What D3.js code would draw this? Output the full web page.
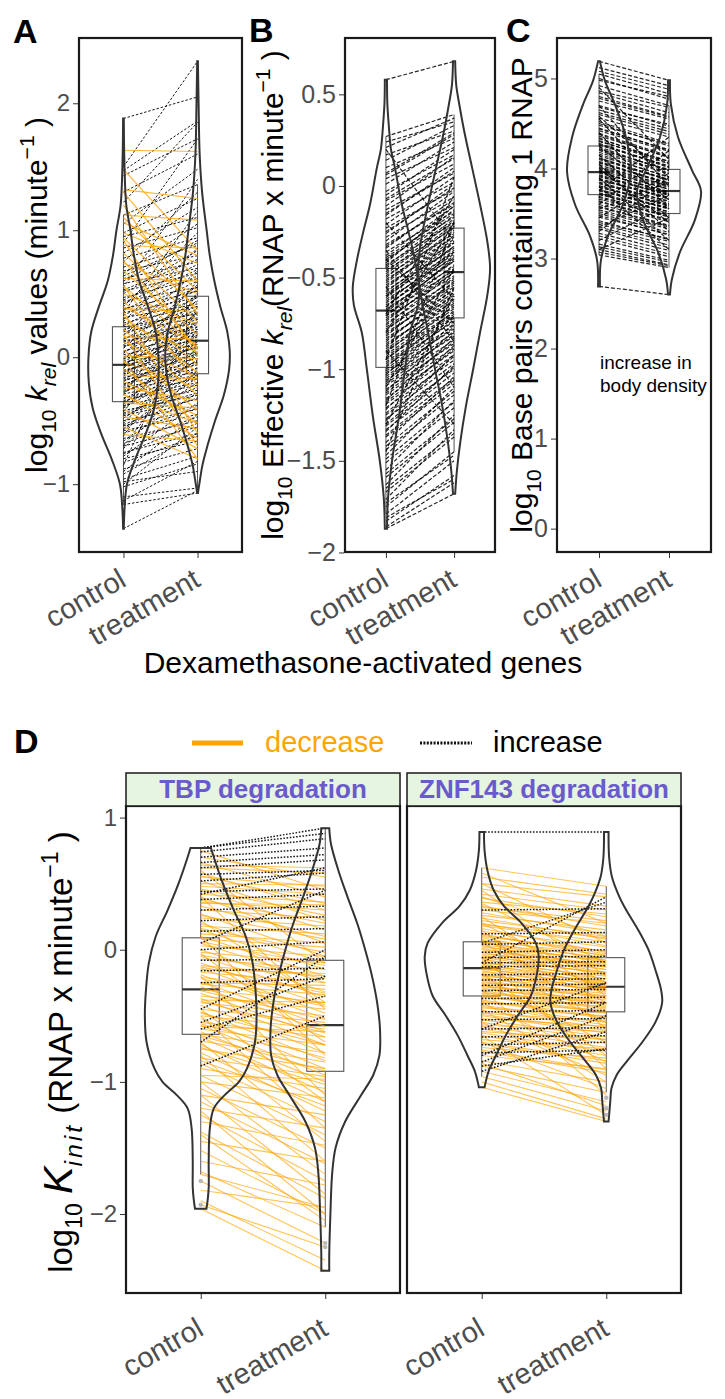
<!DOCTYPE html>
<html>
<head>
<meta charset="utf-8">
<script src="https://cdn.jsdelivr.net/npm/d3@7"></script>
<style>
  body { margin: 0; background: #fff; }
  svg { font-family: "Liberation Sans", Arial, Helvetica, sans-serif; }
</style>
</head>
<body>
<svg id="chart" width="725" height="1399"></svg>
<script>
// ---- data ----
const groups = ["control", "treatment"];

// panel A: log10 k_rel, [control, treatment]
const aIncrease = [[1.88,2.05],[1.50,2.33],[1.47,1.86],[1.43,1.72],[1.30,1.60],[1.22,1.85],[1.12,1.36],[1.05,1.48],[0.98,1.25],[0.95,1.10],[0.90,1.72],[0.86,1.02],[0.82,1.18],[0.78,0.94],[0.75,1.30],[0.71,0.88],[0.68,0.80],[0.66,1.05],[0.62,0.75],[0.60,0.92],[0.58,0.70],[0.55,1.40],[0.52,0.66],[0.50,0.84],[0.47,0.62],[0.45,0.73],[0.44,0.55],[0.40,0.98],[0.38,0.52],[0.37,0.64],[0.35,0.47],[0.33,0.60],[0.31,0.42],[0.28,0.86],[0.27,0.40],[0.25,0.53],[0.22,0.35],[0.21,0.47],[0.20,0.31],[0.17,0.68],[0.15,0.27],[0.14,0.44],[0.12,0.24],[0.10,0.38],[0.09,0.20],[0.07,0.57],[0.05,0.17],[0.04,0.33],[0.02,0.14],[0.00,0.26],[-0.01,0.10],[-0.02,0.45],[-0.04,0.07],[-0.05,0.21],[-0.06,0.04],[-0.08,0.16],[-0.09,0.60],[-0.10,0.02],[-0.12,0.12],[-0.13,-0.01],[-0.14,0.28],[-0.16,-0.04],[-0.17,0.09],[-0.18,-0.06],[-0.20,0.36],[-0.21,-0.09],[-0.22,0.05],[-0.24,-0.11],[-0.25,0.18],[-0.26,-0.14],[-0.28,0.01],[-0.29,-0.17],[-0.30,0.50],[-0.32,-0.20],[-0.33,-0.03],[-0.34,-0.22],[-0.37,0.14],[-0.38,-0.26],[-0.40,-0.08],[-0.42,-0.30],[-0.43,0.30],[-0.46,-0.33],[-0.48,-0.12],[-0.50,-0.38],[-0.52,0.08],[-0.54,-0.41],[-0.57,-0.20],[-0.58,-0.45],[-0.62,0.22],[-0.64,-0.50],[-0.66,-0.28],[-0.70,-0.55],[-0.72,-0.10],[-0.75,-0.60],[-0.78,-0.36],[-0.80,-0.66],[-0.85,0.40],[-0.88,-0.72],[-0.90,-0.45],[-0.96,-0.78],[-1.00,-0.55],[-1.02,-0.84],[-1.10,-1.03],[-1.13,-0.82],[-1.16,-1.07],[-1.35,-1.05],[0.30,0.55],[0.18,0.40],[0.08,0.30],[-0.03,0.19],[-0.11,0.08],[-0.19,0.03],[-0.27,-0.05],[-0.35,-0.15],[-0.44,-0.24],[-0.53,-0.32],[-0.60,-0.40],[-0.68,-0.47],[-0.76,-0.52],[-0.83,-0.62],[0.42,0.69],[0.53,0.77],[0.64,0.90],[0.24,0.34],[0.13,0.22],[-0.15,0.24],[-0.23,0.11],[-0.39,-0.02],[-0.45,-0.28],[-0.56,-0.16],[-0.70,0.05],[-0.92,-0.60],[-0.98,-0.90],[0.03,0.50],[-0.07,0.35],[0.35,1.15]];
const aDecrease = [[1.63,1.62],[1.48,0.84],[1.32,1.25],[1.30,0.60],[1.12,1.08],[1.10,0.52],[1.06,0.80],[0.98,0.74],[0.94,0.38],[0.88,0.86],[0.82,0.28],[0.74,0.50],[0.68,0.18],[0.62,0.60],[0.56,0.08],[0.50,0.26],[0.44,-0.06],[0.38,0.36],[0.32,-0.12],[0.27,0.04],[0.22,-0.30],[0.16,0.14],[0.12,-0.16],[0.06,-0.42],[0.01,-0.01],[-0.04,-0.24],[-0.09,-0.52],[-0.14,-0.17],[-0.19,-0.46],[-0.24,-0.34],[-0.29,-0.64],[-0.36,-0.40],[-0.41,-0.72],[-0.47,-0.56],[-0.55,-0.80],[-0.61,-0.66],[0.36,-0.60],[0.56,-0.22],[0.76,0.06],[1.20,0.34],[0.18,-0.70],[-0.02,-0.80],[0.40,0.10],[0.92,0.02],[-0.30,-0.52]];

// panel B: log10 effective k_rel
const bPairs = [[0.58,0.68],[0.27,0.39],[0.24,0.35],[0.21,0.37],[0.17,0.30],[0.14,0.33],[0.10,0.26],[0.07,0.29],[0.04,0.21],[0.01,0.24],[-0.03,0.17],[-0.05,0.20],[-0.08,0.12],[-0.11,0.16],[-0.13,0.07],[-0.16,0.10],[-0.18,0.02],[-0.21,0.05],[-0.23,-0.02],[-0.26,0.01],[-0.28,-0.06],[-0.30,-0.03],[-0.32,-0.10],[-0.34,-0.07],[-0.36,-0.14],[-0.38,-0.11],[-0.40,-0.17],[-0.41,-0.13],[-0.43,-0.20],[-0.44,-0.16],[-0.46,-0.23],[-0.47,-0.19],[-0.49,-0.26],[-0.50,-0.22],[-0.51,-0.28],[-0.53,-0.25],[-0.54,-0.31],[-0.56,-0.27],[-0.57,-0.34],[-0.58,-0.30],[-0.60,-0.36],[-0.61,-0.33],[-0.62,-0.39],[-0.64,-0.35],[-0.65,-0.41],[-0.66,-0.38],[-0.67,-0.44],[-0.69,-0.40],[-0.70,-0.46],[-0.71,-0.43],[-0.72,-0.49],[-0.74,-0.45],[-0.75,-0.51],[-0.76,-0.47],[-0.78,-0.54],[-0.79,-0.50],[-0.80,-0.57],[-0.82,-0.52],[-0.83,-0.60],[-0.85,-0.56],[-0.86,-0.63],[-0.88,-0.59],[-0.90,-0.66],[-0.91,-0.62],[-0.93,-0.69],[-0.95,-0.65],[-0.97,-0.72],[-0.99,-0.68],[-1.01,-0.76],[-1.03,-0.71],[-1.05,-0.80],[-1.07,-0.75],[-1.09,-0.84],[-1.12,-0.79],[-1.14,-0.88],[-1.17,-0.83],[-1.19,-0.92],[-1.22,-0.87],[-1.25,-0.97],[-1.28,-0.92],[-1.31,-1.02],[-1.34,-0.98],[-1.37,-1.08],[-1.40,-1.04],[-1.44,-1.14],[-1.47,-1.10],[-1.51,-1.21],[-1.55,-1.17],[-1.59,-1.29],[-1.63,-1.25],[-1.67,-1.37],[-1.71,-1.33],[-1.75,-1.45],[-1.79,-1.50],[-1.83,-1.58],[-1.87,-1.68],[-1.86,-1.62],[-0.20,-0.62],[-0.35,-0.85],[-1.20,-0.20],[-0.95,0.05],[-0.55,-1.10],[-1.45,-0.55],[0.20,-0.30],[-0.70,-0.05],[-1.30,-0.60],[-0.45,-0.18],[-0.52,-0.24],[-0.59,-0.33],[-0.63,-0.37],[-0.68,-0.41],[-0.73,-0.47],[-0.77,-0.53],[-0.81,-0.55],[-0.84,-0.58],[-0.87,-0.61],[-0.89,-0.64],[-0.92,-0.67],[-0.94,-0.70],[-0.96,-0.71],[-0.98,-0.74],[-1.00,-0.73],[-1.02,-0.78],[-1.04,-0.77],[-1.06,-0.82],[-1.08,-0.81],[-1.11,-0.86],[-1.13,-0.85],[-1.16,-0.90],[-1.18,-0.89],[-1.21,-0.95],[-1.24,-0.93],[-1.27,-1.00],[-1.30,-0.99],[-1.33,-1.05],[-1.36,-1.06],[-0.15,0.08],[-0.25,-0.01],[-0.33,-0.09],[-0.39,-0.15],[-0.42,-0.11],[-0.48,-0.21],[-0.55,-0.29],[-0.60,-0.31],[-0.66,-0.36],[-0.71,-0.39],[0.06,0.28],[-0.07,0.15],[-1.42,-1.12],[-1.49,-1.18],[-1.57,-1.27],[-1.65,-1.35],[-1.73,-1.47],[-1.81,-1.60],[-0.80,-0.20],[-1.10,-0.45],[-0.40,-0.75],[-0.90,-1.30]];

// panel C: log10 base pairs containing 1 RNAP
const cPairs = [[5.19,4.98],[5.12,4.92],[5.05,4.83],[4.98,4.80],[4.92,4.70],[4.86,4.68],[4.80,4.58],[4.75,4.55],[4.70,4.47],[4.65,4.44],[4.60,4.38],[4.56,4.35],[4.52,4.28],[4.48,4.27],[4.45,4.20],[4.42,4.19],[4.39,4.14],[4.36,4.13],[4.33,4.08],[4.30,4.08],[4.28,4.02],[4.26,4.03],[4.24,3.97],[4.22,3.98],[4.20,3.95],[4.18,3.94],[4.16,3.90],[4.14,3.91],[4.12,3.87],[4.10,3.87],[4.08,3.83],[4.06,3.84],[4.04,3.80],[4.02,3.81],[4.00,3.77],[3.98,3.77],[3.96,3.74],[3.95,3.74],[3.93,3.71],[3.91,3.71],[3.89,3.67],[3.87,3.68],[3.85,3.63],[3.83,3.64],[3.81,3.59],[3.79,3.60],[3.77,3.56],[3.75,3.56],[3.73,3.52],[3.71,3.52],[3.69,3.48],[3.66,3.47],[3.63,3.42],[3.60,3.41],[3.57,3.36],[3.54,3.35],[3.50,3.29],[3.46,3.27],[3.42,3.21],[3.38,3.19],[3.33,3.12],[3.28,3.09],[3.22,3.02],[3.16,2.98],[3.10,2.93],[3.04,2.90],[2.69,2.60],[4.40,3.55],[3.30,3.90],[4.70,3.80],[3.60,4.20],[4.05,3.30],[3.20,3.60],[4.90,4.10],[3.80,3.10],[4.25,3.65],[3.45,3.95],[3.90,3.20],[4.55,3.70],[3.10,3.45],[3.75,4.35],[4.15,3.45],[4.34,4.06],[4.27,4.01],[4.21,3.99],[4.11,3.88],[4.07,3.82],[4.01,3.79],[3.97,3.72],[3.92,3.70],[3.88,3.66],[3.84,3.61],[3.80,3.58],[3.76,3.55],[3.72,3.50],[3.68,3.46],[3.64,3.43],[3.58,3.37],[3.52,3.33],[3.48,3.26],[3.40,3.22],[3.35,3.15],[3.25,3.05],[3.13,2.96],[3.07,2.92],[4.62,4.41],[4.50,4.25],[4.44,4.21],[4.38,4.12],[4.31,4.05],[4.84,4.62],[4.78,4.57],[4.68,4.49],[5.00,4.77],[5.08,4.88],[4.58,3.90],[3.55,3.85],[4.00,3.40],[3.35,3.70]];

// panel D: log10 K_init, TBP and ZNF143 degradation
const tbpDecrease = [[0.70,0.55],[0.66,0.40],[0.62,0.58],[0.58,0.30],[0.55,0.48],[0.52,0.22],[0.48,0.42],[0.45,0.15],[0.42,0.36],[0.40,0.05],[0.36,0.30],[0.33,0.10],[0.30,0.24],[0.27,-0.05],[0.24,0.18],[0.20,-0.10],[0.18,0.12],[0.15,-0.15],[0.12,0.05],[0.10,-0.20],[0.08,0.02],[0.05,-0.25],[0.03,-0.05],[0.00,-0.32],[-0.02,-0.10],[-0.05,-0.36],[-0.07,-0.15],[-0.10,-0.42],[-0.12,-0.20],[-0.14,-0.48],[-0.17,-0.25],[-0.19,-0.52],[-0.21,-0.30],[-0.24,-0.58],[-0.26,-0.34],[-0.28,-0.62],[-0.30,-0.40],[-0.33,-0.66],[-0.35,-0.45],[-0.37,-0.72],[-0.40,-0.50],[-0.42,-0.78],[-0.45,-0.55],[-0.47,-0.84],[-0.50,-0.60],[-0.52,-0.90],[-0.55,-0.66],[-0.57,-0.95],[-0.60,-0.72],[-0.62,-1.00],[-0.64,-0.78],[-0.66,-1.08],[-0.69,-0.85],[-0.72,-1.15],[-0.75,-0.90],[-0.78,-1.22],[-0.82,-0.96],[-0.86,-1.30],[-0.90,-1.05],[-0.95,-1.40],[-1.00,-1.12],[-1.05,-1.50],[-1.10,-1.25],[-1.15,-1.62],[-1.20,-1.35],[-1.25,-1.75],[-1.30,-1.48],[-1.38,-1.88],[-1.45,-1.60],[-1.52,-2.00],[-1.60,-1.78],[-1.68,-2.10],[-1.75,-2.22],[-1.82,-1.95],[-1.93,-2.25],[-1.96,-2.43],[-1.90,-2.35],[-1.70,-1.95],[-1.40,-2.05],[-1.10,-1.85],[-0.80,-1.60],[-0.50,-1.35],[-0.20,-1.10],[0.10,-0.80],[0.40,-0.45],[0.60,-0.10],[0.75,0.45],[0.64,0.62],[0.50,0.49],[0.35,0.34],[-0.15,-0.18],[-0.25,-0.27],[-0.38,-0.40],[-0.58,-0.62],[-0.95,-0.98],[-0.03,-0.70],[-0.45,-1.15],[-0.70,-1.45],[0.22,-0.40],[-1.00,-1.70],[-1.22,-2.00],[0.56,0.35],[0.46,0.26],[0.38,0.20],[0.26,0.08],[0.16,-0.02],[0.06,-0.12],[-0.04,-0.22],[-0.13,-0.33],[-0.22,-0.43],[-0.31,-0.53],[-0.39,-0.63],[-0.48,-0.72],[-0.56,-0.82],[-0.65,-0.92],[-0.74,-1.02],[-0.84,-1.18]];
const tbpIncrease = [[0.77,0.92],[0.77,0.88],[0.74,0.84],[0.70,0.77],[0.66,0.72],[0.62,0.68],[0.57,0.60],[0.52,0.58],[0.44,0.46],[0.38,0.42],[0.30,0.33],[0.22,0.25],[0.14,0.16],[0.00,0.06],[-0.08,-0.07],[-0.16,-0.14],[-0.25,-0.22],[-0.45,0.00],[-0.70,-0.05],[-0.88,-0.50],[-0.60,-0.35],[0.42,0.62],[0.05,0.45],[-0.55,-0.20]];
const znfDecrease = [[0.62,0.48],[0.55,0.42],[0.50,0.40],[0.46,0.33],[0.42,0.30],[0.39,0.25],[0.36,0.27],[0.33,0.18],[0.30,0.20],[0.28,0.12],[0.26,0.15],[0.24,0.08],[0.22,0.10],[0.20,0.03],[0.18,0.06],[0.16,-0.02],[0.14,0.02],[0.12,-0.05],[0.10,-0.01],[0.09,-0.08],[0.07,-0.04],[0.06,-0.10],[0.05,-0.06],[0.03,-0.13],[0.02,-0.08],[0.01,-0.15],[0.00,-0.11],[-0.02,-0.17],[-0.03,-0.13],[-0.04,-0.19],[-0.05,-0.15],[-0.07,-0.22],[-0.08,-0.17],[-0.09,-0.24],[-0.10,-0.20],[-0.11,-0.26],[-0.12,-0.22],[-0.14,-0.28],[-0.15,-0.24],[-0.16,-0.30],[-0.17,-0.26],[-0.18,-0.32],[-0.20,-0.28],[-0.21,-0.35],[-0.22,-0.30],[-0.24,-0.37],[-0.25,-0.33],[-0.26,-0.40],[-0.28,-0.35],[-0.29,-0.42],[-0.30,-0.38],[-0.32,-0.45],[-0.33,-0.40],[-0.35,-0.48],[-0.36,-0.43],[-0.38,-0.51],[-0.40,-0.46],[-0.42,-0.55],[-0.44,-0.50],[-0.46,-0.59],[-0.48,-0.54],[-0.50,-0.63],[-0.52,-0.58],[-0.55,-0.68],[-0.57,-0.62],[-0.60,-0.74],[-0.62,-0.68],[-0.65,-0.80],[-0.68,-0.75],[-0.71,-0.86],[-0.74,-0.82],[-0.77,-0.93],[-0.80,-0.90],[-0.84,-1.00],[-0.88,-1.08],[-0.92,-1.15],[-0.96,-1.22],[-1.00,-1.28],[-1.04,-1.30],[-0.86,-1.18],[-0.70,-1.05],[-0.55,-0.95],[-0.40,-0.85],[-0.25,-0.70],[-0.10,-0.55],[0.05,-0.40],[0.20,-0.25],[0.35,-0.10],[0.50,0.05],[0.58,0.20],[0.45,-0.20],[0.15,-0.60],[-0.05,-0.90],[-0.30,-1.10],[-0.65,-1.25],[0.25,-0.35],[-0.18,-0.80],[0.40,0.10],[-0.45,-1.00],[0.08,-0.30],[0.32,0.22],[0.19,0.09],[0.11,-0.03],[0.04,-0.09],[-0.01,-0.12],[-0.06,-0.18],[-0.13,-0.25],[-0.19,-0.31],[-0.23,-0.36],[-0.27,-0.41],[-0.31,-0.44],[-0.34,-0.47],[-0.39,-0.52],[-0.43,-0.57],[-0.49,-0.61],[-0.53,-0.66],[-0.58,-0.71],[-0.63,-0.77],[-0.70,-0.84],[-0.76,-0.91]];
const znfIncrease = [[0.89,0.89],[0.30,0.31],[0.12,0.13],[0.04,0.06],[-0.02,0.00],[-0.06,-0.05],[-0.10,-0.09],[-0.13,-0.12],[-0.19,-0.18],[-0.23,-0.22],[-0.27,-0.26],[-0.31,-0.30],[-0.37,-0.36],[-0.41,-0.40],[-0.47,-0.46],[-0.53,-0.52],[-0.60,-0.59],[-0.66,-0.65],[-0.72,-0.70],[-0.78,-0.76],[-0.88,-0.75],[-0.92,-0.62],[-0.10,0.40],[-0.60,-0.25],[-0.85,-0.50],[0.05,0.36],[-0.80,-0.40]];

// outlying points [group index, value]
const tbpOutliers = [[0,-1.75],[0,-1.93],[1,-2.22],[1,-2.25]];
const znfOutliers = [[1,-1.12],[1,-1.20],[1,-1.25]];

// violin outlines: [value, relative half-width]
const aViolin = [
  [[1.88,0.01],[1.5,0.03],[1.2,0.08],[1.0,0.2],[0.8,0.3],[0.6,0.45],[0.4,0.7],[0.2,0.92],[0.0,1.0],[-0.2,0.99],[-0.4,0.88],[-0.6,0.64],[-0.8,0.34],[-1.0,0.1],[-1.2,0.03],[-1.35,0.01]],
  [[2.33,0.01],[2.0,0.03],[1.6,0.06],[1.3,0.13],[1.0,0.26],[0.8,0.35],[0.6,0.48],[0.4,0.65],[0.2,0.85],[0.05,0.92],[-0.1,0.9],[-0.3,0.75],[-0.5,0.5],[-0.7,0.28],[-0.85,0.14],[-1.0,0.05],[-1.07,0.01]]
];
const bViolin = [
  [[0.58,0.03],[0.45,0.04],[0.33,0.08],[0.2,0.14],[0.1,0.25],[-0.1,0.44],[-0.26,0.64],[-0.4,0.8],[-0.55,0.92],[-0.65,0.89],[-0.8,0.67],[-1.0,0.53],[-1.26,0.36],[-1.5,0.17],[-1.7,0.06],[-1.87,0.03]],
  [[0.68,0.03],[0.55,0.06],[0.45,0.14],[0.3,0.28],[0.1,0.5],[-0.1,0.72],[-0.3,0.92],[-0.45,1.0],[-0.6,0.92],[-0.8,0.72],[-1.0,0.53],[-1.2,0.33],[-1.4,0.17],[-1.55,0.08],[-1.68,0.03]]
];
const cViolin = [
  [[5.19,0.03],[4.97,0.19],[4.71,0.5],[4.35,0.84],[3.97,1.0],[3.6,0.75],[3.25,0.28],[2.98,0.06],[2.69,0.03]],
  [[4.98,0.03],[4.71,0.06],[4.35,0.28],[3.98,0.72],[3.75,1.0],[3.43,0.81],[3.07,0.34],[2.77,0.09],[2.6,0.03]]
];
const tbpViolin = [
  [[0.77,0.18],[0.7,0.23],[0.5,0.39],[0.3,0.58],[0.1,0.79],[-0.1,0.91],[-0.3,0.96],[-0.5,0.98],[-0.7,0.95],[-0.9,0.81],[-1.0,0.67],[-1.1,0.42],[-1.2,0.23],[-1.35,0.16],[-1.6,0.14],[-1.8,0.14],[-1.9,0.12],[-1.96,0.1]],
  [[0.92,0.07],[0.8,0.1],[0.6,0.23],[0.4,0.39],[0.2,0.56],[0.0,0.7],[-0.2,0.82],[-0.4,0.91],[-0.6,0.96],[-0.8,0.95],[-0.95,0.84],[-1.1,0.63],[-1.3,0.35],[-1.5,0.18],[-1.7,0.12],[-2.0,0.09],[-2.3,0.07],[-2.43,0.07]]
];
const znfViolin = [
  [[0.89,0.04],[0.75,0.05],[0.6,0.1],[0.45,0.21],[0.33,0.39],[0.2,0.7],[0.05,0.95],[-0.05,1.0],[-0.2,0.96],[-0.35,0.86],[-0.5,0.63],[-0.65,0.42],[-0.8,0.25],[-0.92,0.12],[-1.0,0.07],[-1.04,0.05]],
  [[0.89,0.04],[0.7,0.05],[0.55,0.1],[0.4,0.23],[0.3,0.35],[0.15,0.56],[0.0,0.74],[-0.15,0.86],[-0.3,0.96],[-0.4,0.98],[-0.55,0.86],[-0.7,0.63],[-0.85,0.35],[-0.95,0.18],[-1.05,0.09],[-1.15,0.07],[-1.25,0.05],[-1.3,0.04]]
];

// boxes: [q1, median, q3] per group
const aBox = [[-0.35,-0.06,0.24],[-0.13,0.13,0.48]];
const bBox = [[-0.99,-0.68,-0.45],[-0.72,-0.47,-0.23]];
const cBox = [[3.71,3.96,4.25],[3.50,3.75,3.99]];
const tbpBox = [[-0.64,-0.30,0.09],[-0.92,-0.57,-0.08]];
const znfBox = [[-0.35,-0.14,0.06],[-0.47,-0.28,-0.06]];

const aTicks = [-1, 0, 1, 2];
const bTicks = [-2, -1.5, -1, -0.5, 0, 0.5];
const cTicks = [0, 1, 2, 3, 4, 5];
const dTicks = [-2, -1, 0, 1];
const legendLabels = ["decrease", "increase"];
const stripLabels = ["TBP degradation", "ZNF143 degradation"];

// ---- drawing ----
const svg = d3.select("#chart");
const ORANGE = "#FFA500";
const GREY = "#4D4D4D";

const fmt = v => (v < 0 ? "\u2212" : "") + d3.format("~g")(Math.abs(v));

function yScaleFor(values, top, bottom) {
  const [lo, hi] = d3.extent(values);
  const pad = (hi - lo) * 0.05;
  return d3.scaleLinear().domain([lo - pad, hi + pad]).range([bottom, top]);
}

function richText(text, parts, size) {
  let shift = 0;
  parts.forEach(p => {
    const target = p.sub ? size * 0.3 : p.sup ? -size * 0.42 : 0;
    text.append("tspan")
      .attr("font-size", size * (p.scale || 1))
      .attr("font-style", p.italic ? "italic" : null)
      .attr("letter-spacing", p.spacing || null)
      .attr("dy", target - shift)
      .text(p.t);
    shift = target;
  });
}

function drawPanel(o) {
  const [x0, y0, x1, y1] = o.frame;
  const g = svg.append("g");
  const x = d3.scalePoint().domain(groups).range([x0, x1]).padding(0.6);
  const y = o.y;
  const w = d3.scaleLinear().domain([0, 1]).range([0, o.maxHalf]);

  // boxes with whiskers
  o.boxes.forEach((b, i) => {
    const cx = x(groups[i]);
    const vals = o.lineSets.flatMap(s => s.pairs.map(p => p[i]));
    const iqr = b[2] - b[0];
    const lo = d3.min(vals.filter(v => v >= b[0] - 1.5 * iqr));
    const hi = d3.max(vals.filter(v => v <= b[2] + 1.5 * iqr));
    g.append("line").attr("x1", cx).attr("x2", cx).attr("y1", y(b[2])).attr("y2", y(hi))
      .attr("stroke", "#555").attr("stroke-width", 1);
    g.append("line").attr("x1", cx).attr("x2", cx).attr("y1", y(b[0])).attr("y2", y(lo))
      .attr("stroke", "#555").attr("stroke-width", 1);
    g.append("rect")
      .attr("x", cx - o.boxWidth / 2).attr("width", o.boxWidth)
      .attr("y", y(b[2])).attr("height", y(b[0]) - y(b[2]))
      .attr("fill", "none").attr("stroke", "#555").attr("stroke-width", 1.1);
    g.append("line")
      .attr("x1", cx - o.boxWidth / 2).attr("x2", cx + o.boxWidth / 2)
      .attr("y1", y(b[1])).attr("y2", y(b[1]))
      .attr("stroke", "#333").attr("stroke-width", 2.2);
  });

  // paired lines
  o.lineSets.forEach(s => {
    g.append("g").selectAll("line").data(s.pairs).join("line")
      .attr("x1", x(groups[0])).attr("x2", x(groups[1]))
      .attr("y1", d => y(d[0])).attr("y2", d => y(d[1]))
      .attr("stroke", s.color).attr("stroke-width", s.width)
      .attr("stroke-dasharray", s.dash || null)
      .attr("stroke-opacity", s.opacity);
  });

  // violins
  o.violins.forEach((prof, i) => {
    const cx = x(groups[i]);
    const area = d3.area()
      .curve(d3.curveCatmullRom)
      .y(d => y(d[0]))
      .x0(d => cx - w(d[1]))
      .x1(d => cx + w(d[1]));
    g.append("path").attr("d", area(prof))
      .attr("fill", "none").attr("stroke", "#333").attr("stroke-width", 2);
  });

  // outlying points
  if (o.outliers) {
    g.selectAll("circle").data(o.outliers).join("circle")
      .attr("cx", d => x(groups[d[0]])).attr("cy", d => y(d[1])).attr("r", 2.2)
      .attr("fill", "#aaa").attr("fill-opacity", 0.8);
  }

  // frame
  g.append("rect").attr("x", x0).attr("y", y0).attr("width", x1 - x0).attr("height", y1 - y0)
    .attr("fill", "none").attr("stroke", "#1a1a1a").attr("stroke-width", 2.2);

  // y axis
  if (o.ticks) {
    const ax = g.append("g").attr("transform", `translate(${x0 - 1},0)`)
      .call(d3.axisLeft(y).tickValues(o.ticks).tickFormat(fmt).tickSize(5).tickPadding(3));
    ax.select(".domain").remove();
    ax.selectAll(".tick line").attr("stroke", "#333");
    ax.selectAll(".tick text").attr("fill", GREY).attr("font-size", o.tickFont)
      .attr("font-family", null);
  }

  // x axis with rotated labels
  const bx = g.append("g").attr("transform", `translate(0,${y1 + 1})`)
    .call(d3.axisBottom(x).tickSize(5));
  bx.select(".domain").remove();
  bx.selectAll(".tick line").attr("stroke", "#333");
  bx.selectAll(".tick text")
    .attr("fill", GREY).attr("font-size", 29).attr("font-family", null)
    .attr("text-anchor", "end").attr("x", 0).attr("y", 0).attr("dy", null)
    .attr("transform", `translate(${o.labelDx},${o.labelDy}) rotate(-30)`);

  // y title
  if (o.title) {
    const t = g.append("text")
      .attr("transform", `translate(${o.titleX},${o.titleY}) rotate(-90)`)
      .attr("text-anchor", "middle").attr("fill", "#000");
    richText(t, o.title, o.titleSize);
  }
  return { x, y };
}

const allA = aIncrease.concat(aDecrease).flat().concat(aViolin.flat().map(d => d[0]));
const allB = bPairs.flat().concat(bViolin.flat().map(d => d[0]));
const allC = cPairs.flat().concat(cViolin.flat().map(d => d[0]), [0]);
const allD = tbpDecrease.concat(tbpIncrease, znfDecrease, znfIncrease).flat()
  .concat(tbpViolin.flat().map(d => d[0]), znfViolin.flat().map(d => d[0]));

const dotted = { color: "#000", width: 1.0, dash: "2.5,1.8", opacity: 0.9 };
const dashed = { color: "#000", width: 1.2, dash: "4,2", opacity: 0.85 };

drawPanel({
  frame: [79, 38, 242, 552], y: yScaleFor(allA, 38, 552),
  lineSets: [
    Object.assign({ pairs: aIncrease }, dotted),
    { pairs: aDecrease, color: ORANGE, width: 1.2, opacity: 0.8 }
  ],
  violins: aViolin, boxes: aBox, maxHalf: 35, boxWidth: 22,
  ticks: aTicks, tickFont: 24, labelDx: 4, labelDy: 32,
  title: [{ t: "log" }, { t: "10", sub: 1, scale: 0.7 }, { t: " " }, { t: "k", italic: 1 },
          { t: "rel", italic: 1, sub: 1, scale: 0.7 }, { t: " values (minute" },
          { t: "\u22121", sup: 1, scale: 0.7 }, { t: " )" }],
  titleX: 47, titleY: 295, titleSize: 30
});

drawPanel({
  frame: [345, 38, 495, 552], y: yScaleFor(allB, 38, 552),
  lineSets: [Object.assign({ pairs: bPairs }, dashed)],
  violins: bViolin, boxes: bBox, maxHalf: 36, boxWidth: 20,
  ticks: bTicks, tickFont: 25, labelDx: 4, labelDy: 32,
  title: [{ t: "log" }, { t: "10", sub: 1, scale: 0.7 }, { t: " Effective " }, { t: "k", italic: 1 },
          { t: "rel", italic: 1, sub: 1, scale: 0.7 }, { t: "(RNAP x minute" },
          { t: "\u22121", sup: 1, scale: 0.7 }, { t: " )" }],
  titleX: 283, titleY: 295, titleSize: 30
});

drawPanel({
  frame: [557, 38, 711, 552], y: yScaleFor(allC, 38, 552),
  lineSets: [Object.assign({ pairs: cPairs }, dashed)],
  violins: cViolin, boxes: cBox, maxHalf: 32, boxWidth: 22,
  ticks: cTicks, tickFont: 25, labelDx: 4, labelDy: 32,
  title: [{ t: "log" }, { t: "10", sub: 1, scale: 0.7 }, { t: " Base pairs containing 1 RNAP" }],
  titleX: 532, titleY: 295, titleSize: 30
});

const yD = yScaleFor(allD, 806, 1293);
const dSolid = { color: ORANGE, width: 1.1, opacity: 0.65 };
const dDots = { color: "#000", width: 1.5, dash: "1.6,1.6", opacity: 0.9 };

drawPanel({
  frame: [126, 806, 400, 1293], y: yD,
  lineSets: [Object.assign({ pairs: tbpDecrease }, dSolid), Object.assign({ pairs: tbpIncrease }, dDots)],
  violins: tbpViolin, boxes: tbpBox, outliers: tbpOutliers, maxHalf: 57, boxWidth: 37,
  ticks: dTicks, tickFont: 24, labelDx: 4, labelDy: 40,
  title: [{ t: "log" }, { t: "10", sub: 1, scale: 0.7 }, { t: "  " }, { t: "K", italic: 1, scale: 1.25 },
          { t: "init", italic: 1, sub: 1, scale: 0.75, spacing: 3 }, { t: " (RNAP x minute" },
          { t: "\u22121", sup: 1, scale: 0.7 }, { t: " )" }],
  titleX: 72, titleY: 1052, titleSize: 33
});

drawPanel({
  frame: [407, 806, 681, 1293], y: yD,
  lineSets: [Object.assign({ pairs: znfDecrease }, dSolid), Object.assign({ pairs: znfIncrease }, dDots)],
  violins: znfViolin, boxes: znfBox, outliers: znfOutliers, maxHalf: 57, boxWidth: 37,
  labelDx: 4, labelDy: 40
});

// facet strips
[[126, 400], [407, 681]].forEach((s, i) => {
  svg.append("rect").attr("x", s[0]).attr("y", 773).attr("width", s[1] - s[0]).attr("height", 33)
    .attr("fill", "#E5F5E0").attr("stroke", "#1a1a1a").attr("stroke-width", 1.5);
  svg.append("text").attr("x", (s[0] + s[1]) / 2).attr("y", 798)
    .attr("text-anchor", "middle").attr("font-size", 26).attr("font-weight", "bold")
    .attr("fill", "#6A5ACD").text(stripLabels[i]);
});

// legend
svg.append("line").attr("x1", 192).attr("x2", 243).attr("y1", 743).attr("y2", 743)
  .attr("stroke", ORANGE).attr("stroke-width", 5);
svg.append("text").attr("x", 265).attr("y", 752).attr("font-size", 29).attr("fill", ORANGE)
  .text(legendLabels[0]);
svg.append("line").attr("x1", 420).attr("x2", 472).attr("y1", 743).attr("y2", 743)
  .attr("stroke", "#111").attr("stroke-width", 3).attr("stroke-dasharray", "2,1.4");
svg.append("text").attr("x", 493).attr("y", 752).attr("font-size", 29).attr("fill", "#000")
  .text(legendLabels[1]);

// shared x title, annotation, panel letters
svg.append("text").attr("x", 363).attr("y", 673).attr("text-anchor", "middle")
  .attr("font-size", 30).text("Dexamethasone-activated genes");
svg.append("text").attr("x", 600).attr("y", 369).attr("font-size", 19).text("increase in");
svg.append("text").attr("x", 600).attr("y", 392).attr("font-size", 19).text("body density");

[["A", 13, 43], ["B", 249, 42], ["C", 506, 42], ["D", 14, 753]].forEach(l => {
  svg.append("text").attr("x", l[1]).attr("y", l[2]).attr("font-size", 34)
    .attr("font-weight", "bold").text(l[0]);
});
</script>
</body>
</html>
